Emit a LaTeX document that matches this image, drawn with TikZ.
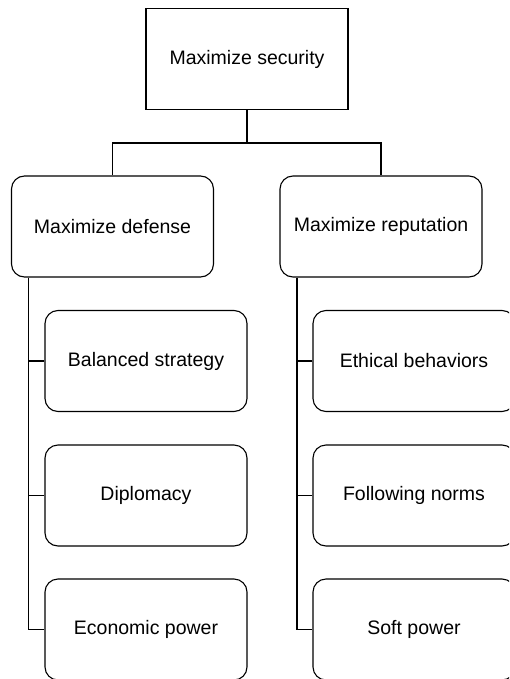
\documentclass[tikz,border=0pt]{standalone}
\usepackage{fontspec}
\setmainfont{Liberation Sans}
\begin{document}
\begin{tikzpicture}[x=1pt,y=-1pt,
  box/.style={draw=black, line width=1.1pt, fill=white, minimum width=202pt,
    minimum height=101pt, inner sep=0pt, font=\fontsize{19.5}{23}\selectfont},
  goal/.style={box, rounded corners=13pt},
  link/.style={draw=black, line width=1.1pt}]
  \clip (0,0) rectangle (509,679);
  \fill[white] (0,0) rectangle (509,679);
  % root
  \node[box] (root) at (247,59) {Maximize security};
  % sub-goals
  \node[goal] (def) at (112.5,226.5) {Maximize defense};
  \node[goal] (rep) at (381,226.5) {Maximize reputation};
  % left branch
  \node[goal] (bal) at (146,361) {Balanced strategy};
  \node[goal] (dip) at (146,495.5) {Diplomacy};
  \node[goal] (eco) at (146,629.5) {Economic power};
  % right branch
  \node[goal] (eth) at (414,361) {Ethical behaviors};
  \node[goal] (fol) at (414,495.5) {Following norms};
  \node[goal] (sof) at (414,629.5) {Soft power};
  % tree connectors
  \coordinate (split) at (247,143);
  \draw[link] (root.south) -- (split);
  \draw[link] (def.north) |- (split) -| (rep.north);
  \coordinate (ltrunk) at (28.5,0);
  \coordinate (rtrunk) at (297,0);
  \draw[link] (def.south -| ltrunk) |- (eco.west);
  \draw[link] (bal.west) -- (bal.west -| ltrunk);
  \draw[link] (dip.west) -- (dip.west -| ltrunk);
  \draw[link] (rep.south -| rtrunk) |- (sof.west);
  \draw[link] (eth.west) -- (eth.west -| rtrunk);
  \draw[link] (fol.west) -- (fol.west -| rtrunk);
\end{tikzpicture}
\end{document}
